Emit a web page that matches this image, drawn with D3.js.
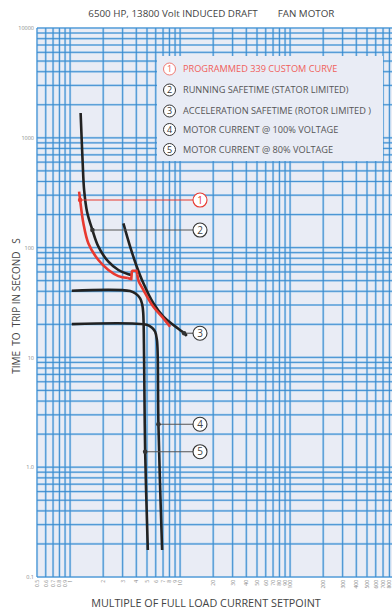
<!DOCTYPE html>
<html>
<head>
<meta charset="utf-8">
<script src="https://cdn.jsdelivr.net/npm/d3@7"></script>
<style>
  html, body { margin: 0; padding: 0; background: #fff; }
  svg { display: block; }
  text { font-family: "Open Sans", "Noto Sans", sans-serif; }
</style>
</head>
<body>
<svg id="chart" width="392" height="609"></svg>
<script>
// ---- Data ----
const xTickValues = [0.5, 0.6, 0.7, 0.8, 0.9, 1, 2, 3, 4, 5, 6, 7, 8, 9, 10,
  20, 30, 40, 50, 60, 70, 80, 90, 100, 200, 300, 400, 500, 600, 700, 800];
const xTickLabels = ["0.5", "0.6", "0.7", "0.8", "0.9", "1", "2", "3", "4", "5", "6", "7", "8", "9", "10",
  "20", "30", "40", "50", "60", "70", "80", "90", "100", "200", "300", "400", "500", "600", "700", "800"];
const yTickValues = [0.1, 1, 10, 100, 1000, 10000];
const yTickLabels = ["0.1", "1.0", "10", "100", "1000", "10000"];

// [multiple of FLC, seconds]
const customCurve = [[1.207, 323], [1.233, 271], [1.321, 166], [1.467, 109], [1.808, 77],
  [2.229, 62.5], [2.748, 55], [3.35, 52.8], [3.6, 51.5], [3.64, 60.5], [3.70, 61.6], [4.02, 61.6],
  [4.08, 57], [4.195, 49.7], [4.638, 41.1], [5.715, 28.9], [7.05, 22.7], [8.11, 19.0]];
const runningSafetime = [[1.246, 1683], [1.30, 600], [1.341, 334], [1.427, 211], [1.595, 144.5],
  [1.808, 102], [2.229, 74.4], [2.748, 62.5], [3.388, 57.1], [3.62, 56.3]];
const accelSafetime = [[3.051, 166], [3.512, 102], [4.04, 67], [4.638, 47.3], [5.715, 31.1],
  [7.05, 23.5], [8.69, 19.7], [10.87, 16.6], [11.5, 15.7]];
const current100 = [[1.036, 20.1], [4.98, 19.8], [5.56, 18.6], [5.93, 17.1], [6.15, 14.5],
  [6.22, 12.5], [6.27, 9.5], [6.35, 2.46], [6.86, 0.176]];
const current80 = [[1.036, 40.5], [3.512, 40.2], [3.98, 37.8], [4.33, 34.5], [4.52, 30.5],
  [4.62, 25.4], [4.706, 9.5], [4.81, 1.384], [5.087, 0.176]];

// callout anchors on each curve: [number, x, y]
const callouts = [[1, 1.233, 271], [2, 1.595, 144.5], [3, 10.87, 16.6], [4, 6.35, 2.46], [5, 4.81, 1.384]];

const legendNumbers = ["1", "2", "3", "4", "5"];
const legendTexts = [
  "PROGRAMMED 339 CUSTOM CURVE",
  "RUNNING SAFETIME (STATOR LIMITED)",
  "ACCELERATION SAFETIME (ROTOR LIMITED )",
  "MOTOR CURRENT @ 100% VOLTAGE",
  "MOTOR CURRENT @ 80% VOLTAGE"
];

// ---- Layout ----
const W = 392, H = 609;
const plotLeft = 37, plotRight = 392, plotTop = 28, plotBottom = 577;
const RED = "#e8392f", INK = "#222";

const svg = d3.select("#chart");

const x = d3.scaleLog().domain([0.5, 1000]).range([plotLeft, plotLeft + 110 * Math.log10(2000)]);
const y = d3.scaleLog().domain([0.1, 10000]).range([plotBottom, plotTop]);

svg.append("defs").append("clipPath").attr("id", "plotClip")
  .append("rect").attr("x", plotLeft - 1).attr("y", plotTop - 1)
  .attr("width", plotRight - plotLeft + 1).attr("height", plotBottom - plotTop + 2);

// Plot background
svg.append("rect").attr("x", plotLeft).attr("y", plotTop)
  .attr("width", plotRight - plotLeft).attr("height", plotBottom - plotTop)
  .attr("fill", "#e9ecf5");

// Grid lines: every integer multiple inside each decade
const grid = svg.append("g").attr("clip-path", "url(#plotClip)");
const xGridVals = [];
[0.1, 1, 10, 100].forEach(d => { for (let k = 1; k <= 9; k++) { const v = +(d * k).toPrecision(3); if (v >= 0.5 && v <= 1000) xGridVals.push(v); } });
const yGridVals = [];
[0.1, 1, 10, 100, 1000].forEach(d => { for (let k = 1; k <= 9; k++) yGridVals.push(+(d * k).toPrecision(3)); });
yGridVals.push(10000);

function drawGrid(sel, width, color, opacity) {
  sel.selectAll(null).data(xGridVals).enter().append("line")
    .attr("x1", d => x(d)).attr("x2", d => x(d))
    .attr("y1", plotTop).attr("y2", plotBottom)
    .attr("stroke", color).attr("stroke-width", width).attr("stroke-opacity", opacity);
  sel.selectAll(null).data(yGridVals).enter().append("line")
    .attr("x1", plotLeft).attr("x2", plotRight)
    .attr("y1", d => y(d)).attr("y2", d => y(d))
    .attr("stroke", color).attr("stroke-width", width).attr("stroke-opacity", opacity);
}
drawGrid(grid, 2.2, "#8cc0ea", 0.7);
drawGrid(grid, 1, "#2f85cc", 0.8);

// Axes (labels only)
const yAxis = d3.axisLeft(y).tickValues(yTickValues)
  .tickFormat((d, i) => yTickLabels[i]).tickSize(0).tickPadding(3);
svg.append("g").attr("transform", `translate(${plotLeft},0)`).call(yAxis)
  .call(g => g.select(".domain").remove())
  .selectAll("text").attr("font-size", 5.5).attr("fill", "#888")
  .style("font-family", "'Open Sans', sans-serif");

const xAxis = d3.axisBottom(x).tickValues(xTickValues)
  .tickFormat((d, i) => xTickLabels[i]).tickSize(0);
svg.append("g").attr("transform", `translate(0,${plotBottom})`).call(xAxis)
  .call(g => g.select(".domain").remove())
  .selectAll("text")
  .attr("transform", "rotate(-90)")
  .attr("text-anchor", "end").attr("dy", "0.3em")
  .attr("x", -3).attr("y", 0)
  .attr("font-size", 5).attr("fill", "#888")
  .style("font-family", "'Open Sans', sans-serif");

// Titles
svg.append("text").attr("x", 173).attr("y", 17).attr("text-anchor", "middle")
  .attr("font-size", 9.8).attr("fill", "#444").text("6500 HP, 13800 Volt INDUCED DRAFT");
svg.append("text").attr("x", 306).attr("y", 17).attr("text-anchor", "middle")
  .attr("font-size", 9.8).attr("fill", "#444").text("FAN MOTOR");
svg.append("text").attr("transform", "translate(20,306) rotate(-90)").attr("text-anchor", "middle")
  .attr("font-size", 10).attr("fill", "#444").style("white-space", "pre")
  .text("TIME  TO  TRIP IN SECOND   S");
svg.append("text").attr("x", 206).attr("y", 607).attr("text-anchor", "middle")
  .attr("font-size", 10.8).attr("fill", "#444").text("MULTIPLE OF FULL LOAD CURRENT SETPOINT");

// Curves
const line = d3.line().x(d => x(d[0])).y(d => y(d[1])).curve(d3.curveCatmullRom.alpha(0.5));
const lineSharp = d3.line().x(d => x(d[0])).y(d => y(d[1])).curve(d3.curveLinear);
const curves = svg.append("g").attr("clip-path", "url(#plotClip)")
  .attr("fill", "none").attr("stroke-linecap", "butt").attr("stroke-linejoin", "round");

// Leader lines to the numbered circles
const circleX = 200;
const leaders = svg.append("g");
callouts.forEach(([n, cx, cy]) => {
  leaders.append("line")
    .attr("x1", x(cx)).attr("y1", y(cy)).attr("x2", circleX - 7).attr("y2", y(cy))
    .attr("stroke", n === 1 ? RED : "#555").attr("stroke-width", 1.1);
});

[current80, current100, runningSafetime, accelSafetime].forEach(c => {
  curves.append("path").attr("d", line(c)).attr("stroke", INK).attr("stroke-width", 2.6);
});
curves.append("path").attr("d", lineSharp(customCurve.slice(7, 13)))
  .attr("stroke", RED).attr("stroke-width", 2.6);
curves.append("path").attr("d", line(customCurve.slice(0, 8)))
  .attr("stroke", RED).attr("stroke-width", 2.6);
curves.append("path").attr("d", line(customCurve.slice(12)))
  .attr("stroke", RED).attr("stroke-width", 2.6);

// Markers and numbered circles
callouts.forEach(([n, cx, cy]) => {
  const col = n === 1 ? RED : "#333";
  svg.append("circle").attr("cx", x(cx)).attr("cy", y(cy)).attr("r", 2.3).attr("fill", col);
  svg.append("circle").attr("cx", circleX).attr("cy", y(cy)).attr("r", 7)
    .attr("fill", "#fff").attr("stroke", n === 1 ? RED : "#333").attr("stroke-width", 1.1);
  svg.append("text").attr("x", circleX).attr("y", y(cy) + 3.5).attr("text-anchor", "middle")
    .attr("font-size", 10).attr("fill", n === 1 ? RED : "#444").text(n);
});

// Legend
const legend = svg.append("g");
legend.append("rect").attr("x", 157).attr("y", 56).attr("width", 226).attr("height", 105)
  .attr("fill", "#e9ecf5");
const legendY = [69, 90, 111, 129.5, 149.5];
legendNumbers.forEach((num, i) => {
  legend.append("circle").attr("cx", 169.5).attr("cy", legendY[i]).attr("r", 6)
    .attr("fill", "#fff").attr("stroke", i === 0 ? "#f07a72" : "#333").attr("stroke-width", 1);
  legend.append("text").attr("x", 169.5).attr("y", legendY[i] + 3.3).attr("text-anchor", "middle")
    .attr("font-size", 9).attr("fill", i === 0 ? "#f0605a" : "#333").text(num);
  legend.append("text").attr("x", 183).attr("y", legendY[i] + 3.2).attr("font-size", 9.2)
    .attr("fill", i === 0 ? "#f0605a" : "#555").text(legendTexts[i]);
});
</script>
</body>
</html>
